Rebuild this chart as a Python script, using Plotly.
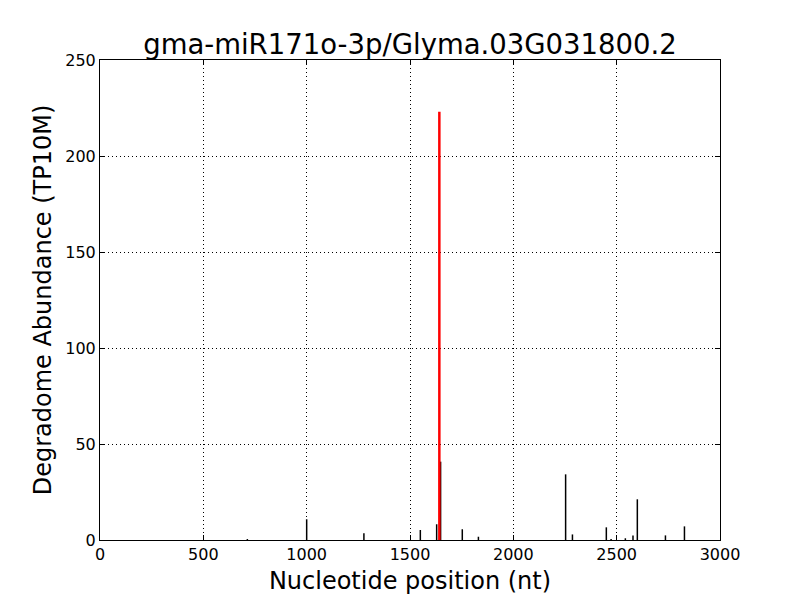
import plotly.graph_objects as go

# Data
black_pos = [713, 1000, 1277, 1550, 1629, 1648, 1753, 1831, 2253, 2286, 2450, 2473, 2542, 2579, 2600, 2736, 2828]
black_val = [0.5, 10.8, 3.5, 5.2, 8.2, 40.8, 5.6, 1.7, 34.2, 2.9, 6.6, 0.5, 0.9, 2.4, 21.2, 2.4, 7.1]
red_pos = [1642]
red_val = [223.0]

title_text = "gma-miR171o-3p/Glyma.03G031800.2"
x_ticks = [0, 500, 1000, 1500, 2000, 2500, 3000]
y_ticks = [0, 50, 100, 150, 200, 250]


def vlines(pos, val):
    xs, ys = [], []
    for p, v in zip(pos, val):
        xs += [p, p, None]
        ys += [0, v, None]
    return xs, ys


bx, by = vlines(black_pos, black_val)
rx, ry = vlines(red_pos, red_val)

fig = go.Figure()
fig.add_trace(go.Scatter(x=bx, y=by, mode="lines", line=dict(color="black", width=1.5),
                         hoverinfo="skip", showlegend=False))
fig.add_trace(go.Scatter(x=rx, y=ry, mode="lines", line=dict(color="red", width=2.5),
                         hoverinfo="skip", showlegend=False))

font_family = "DejaVu Sans"
axis_common = dict(
    showline=True, linecolor="black", linewidth=1, mirror="ticks",
    ticks="inside", ticklen=5, tickcolor="black", tickwidth=1,
    showgrid=True, gridcolor="black", griddash="1px,3px", gridwidth=1,
    zeroline=False, automargin=False,
    tickfont=dict(family=font_family, size=16, color="black"),
)

fig.update_layout(
    width=800, height=600,
    paper_bgcolor="white", plot_bgcolor="white",
    margin=dict(l=92, r=88, t=52, b=68, autoexpand=False),
    font=dict(family=font_family, color="black"),
    title=dict(text=title_text, x=0.5, xref="paper", y=1 - 36 / 600, yref="container",
               xanchor="center", yanchor="middle", font=dict(size=27.5, family=font_family),
               automargin=False),
    xaxis=dict(range=[0, 3000], tickvals=x_ticks, ticktext=[str(t) for t in x_ticks],
               title=dict(text="Nucleotide position (nt)", font=dict(size=24), standoff=8),
               **axis_common),
    yaxis=dict(range=[0, 250], tickvals=y_ticks, ticktext=[str(t) for t in y_ticks],
               title=dict(text="Degradome Abundance (TP10M)", font=dict(size=24), standoff=6),
               **axis_common),
)

fig.write_html("out.html")
